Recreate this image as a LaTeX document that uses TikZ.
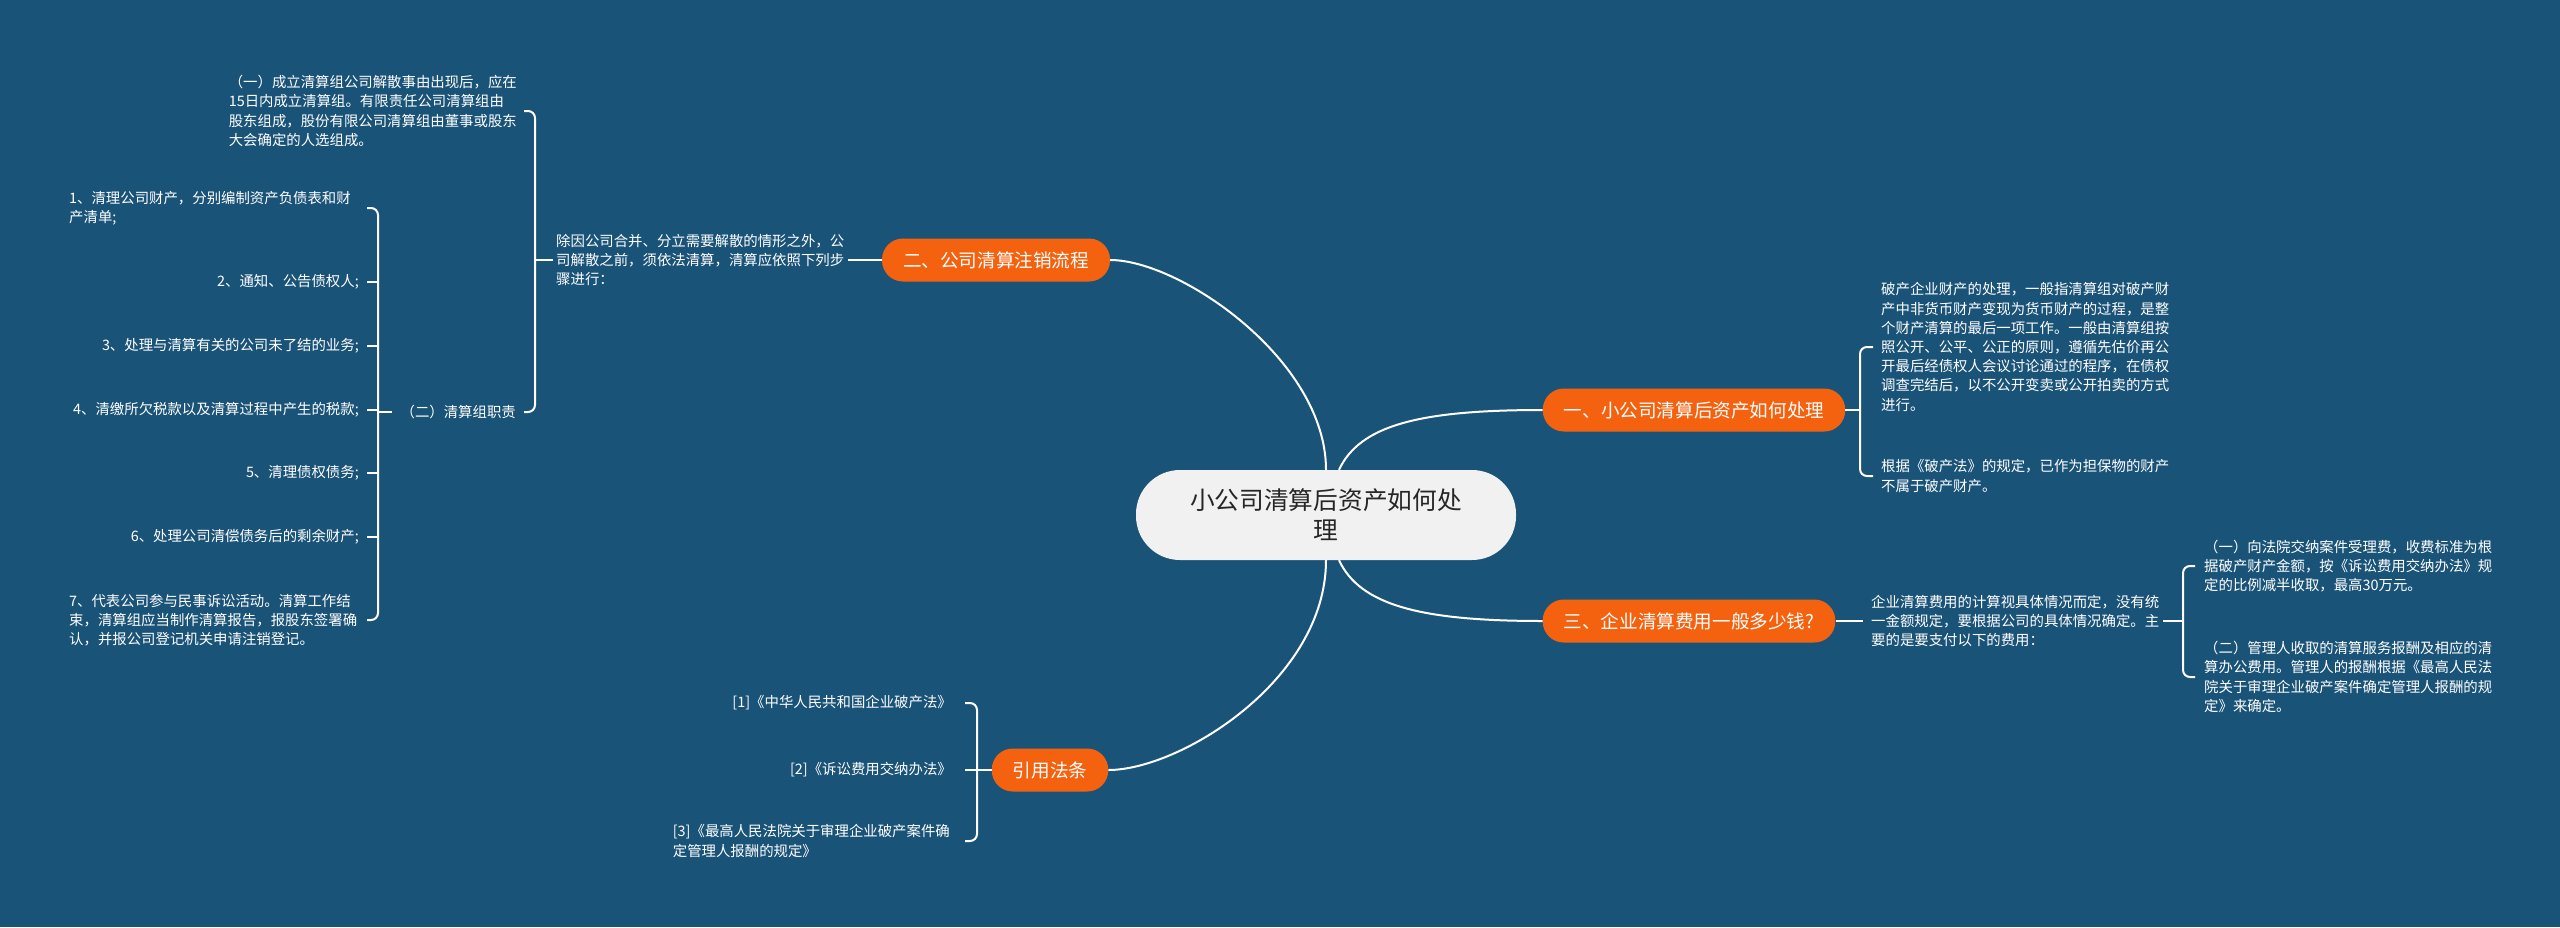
\documentclass[tikz,border=0pt]{standalone}
\usepackage{fontspec}
\setmainfont{Noto Sans CJK SC}
\definecolor{bg}{HTML}{1A5378}
\definecolor{org}{HTML}{F5620F}
\definecolor{rootfill}{HTML}{F1F1F1}
\tikzset{
 conn/.style={draw=white, line width=2pt},
 br/.style={draw=white, line width=2pt, rounded corners=7pt},
 txt/.style={text=white, font=\fontsize{14.4}{19.2}\selectfont, inner sep=0pt, align=left},
 txtr/.style={txt, align=right},
 branch/.style={fill=org, text=white, font=\fontsize{18.6}{22}\selectfont, rounded corners=21pt, minimum height=43pt, inner xsep=21pt, inner ysep=0pt},
 rootbox/.style={fill=rootfill, text=black!85, font=\fontsize{24.7}{30}\selectfont, rounded corners=44pt, minimum width=380pt, minimum height=90pt, align=center, inner sep=0pt},
}
\begin{document}
\begin{tikzpicture}[x=1pt,y=-1pt]
\fill[bg] (0,0) rectangle (2560,927);
\useasboundingbox (0,0) rectangle (2560,927);

% root and branches
\node[rootbox] (root) at (1326,515) {小公司清算后资产如何处\\理};
\node[branch] (b2) at (996,260) {二、公司清算注销流程};
\node[branch] (b1) at (1694,410) {一、小公司清算后资产如何处理};
\node[branch] (b3) at (1689,621) {三、企业清算费用一般多少钱?};
\node[branch] (b4) at (1050,770) {引用法条};

\draw[conn] (root.north) .. controls (1326,360) and (1180,260) .. (b2.east);
\draw[conn] (root.south) .. controls (1326,680) and (1180,770) .. (b4.east);
\draw[conn] ([xshift=13pt]root.north) .. controls (1360,425) and (1420,410) .. (b1.west);
\draw[conn] ([xshift=13pt]root.south) .. controls (1360,605) and (1420,621) .. (b3.west);

% ---- left: branch 二
\node[txt, anchor=west] (t2) at (556,260) {除因公司合并、分立需要解散的情形之外，公\\司解散之前，须依法清算，清算应依照下列步\\骤进行：};
\draw[conn] ([xshift=4pt]t2.east) -- (b2.west);

\coordinate (B) at (535,0);
\coordinate (Ba) at (524,0);
\node[txt, anchor=east] (c21) at (517,111) {（一）成立清算组公司解散事由出现后，应在\\15日内成立清算组。有限责任公司清算组由\\股东组成，股份有限公司清算组由董事或股东\\大会确定的人选组成。};
\node[txt, anchor=east] (c22) at (516,412) {（二）清算组职责};
\draw[br] (c21.east -| Ba) -- (c21.east -| B) -- (c22.east -| B) -- (c22.east -| Ba);
\draw[conn] (t2.west -| B) -- ([xshift=-3pt]t2.west);

\coordinate (S) at (378,0);
\coordinate (Sa) at (367,0);
\node[txt, anchor=west] (s1) at (69,208) {1、清理公司财产，分别编制资产负债表和财\\产清单;};
\node[txt, anchor=east] (s2) at (359,282) {2、通知、公告债权人;};
\node[txt, anchor=east] (s3) at (359,346) {3、处理与清算有关的公司未了结的业务;};
\node[txt, anchor=east] (s4) at (359,410) {4、清缴所欠税款以及清算过程中产生的税款;};
\node[txt, anchor=east] (s5) at (359,473) {5、清理债权债务;};
\node[txt, anchor=east] (s6) at (359,537) {6、处理公司清偿债务后的剩余财产;};
\node[txt, anchor=west] (s7) at (69,620) {7、代表公司参与民事诉讼活动。清算工作结\\束，清算组应当制作清算报告，报股东签署确\\认，并报公司登记机关申请注销登记。};
\draw[br] (s1.east -| Sa) -- (s1.east -| S) -- (s7.east -| S) -- (s7.east -| Sa);
\foreach \n in {s2,s3,s4,s5,s6} { \draw[conn] (\n.east -| Sa) -- (\n.east -| S); }
\draw[conn] (c22.west -| S) -- ([xshift=-8pt]c22.west);

% ---- right: branch 一
\coordinate (R1) at (1860,0);
\coordinate (R1a) at (1873,0);
\node[txt, anchor=west] (r11) at (1881,347) {破产企业财产的处理，一般指清算组对破产财\\产中非货币财产变现为货币财产的过程，是整\\个财产清算的最后一项工作。一般由清算组按\\照公开、公平、公正的原则，遵循先估价再公\\开最后经债权人会议讨论通过的程序，在债权\\调查完结后，以不公开变卖或公开拍卖的方式\\进行。};
\node[txt, anchor=west] (r12) at (1881,476) {根据《破产法》的规定，已作为担保物的财产\\不属于破产财产。};
\draw[br] (r11.west -| R1a) -- (r11.west -| R1) -- (r12.west -| R1) -- (r12.west -| R1a);
\draw[conn] (b1.east) -- (b1.east -| R1);

% ---- right: branch 三
\node[txt, anchor=west] (r3) at (1871,621) {企业清算费用的计算视具体情况而定，没有统\\一金额规定，要根据公司的具体情况确定。主\\要的是要支付以下的费用：};
\draw[conn] (b3.east) -- ([xshift=-8pt]r3.west);
\coordinate (R3) at (2183,0);
\coordinate (R3a) at (2195,0);
\node[txt, anchor=west] (r31) at (2204,566) {（一）向法院交纳案件受理费，收费标准为根\\据破产财产金额，按《诉讼费用交纳办法》规\\定的比例减半收取，最高30万元。};
\node[txt, anchor=west] (r32) at (2204,677) {（二）管理人收取的清算服务报酬及相应的清\\算办公费用。管理人的报酬根据《最高人民法\\院关于审理企业破产案件确定管理人报酬的规\\定》来确定。};
\draw[br] (r31.west -| R3a) -- (r31.west -| R3) -- (r32.west -| R3) -- (r32.west -| R3a);
\draw[conn] ([xshift=4pt]r3.east) -- (r3.east -| R3);

% ---- left: 引用法条
\coordinate (L4) at (977,0);
\coordinate (L4a) at (965,0);
\node[txt, anchor=east] (l41) at (952,703) {[1]《中华人民共和国企业破产法》};
\node[txt, anchor=east] (l42) at (952,770) {[2]《诉讼费用交纳办法》};
\node[txt, anchor=east] (l43) at (950,841) {[3]《最高人民法院关于审理企业破产案件确\\定管理人报酬的规定》};
\draw[br] (l41.east -| L4a) -- (l41.east -| L4) -- (l43.east -| L4) -- (l43.east -| L4a);
\draw[conn] (l42.east -| L4a) -- (l42.east -| L4);
\draw[conn] (b4.west) -- (b4.west -| L4);
\end{tikzpicture}
\end{document}
